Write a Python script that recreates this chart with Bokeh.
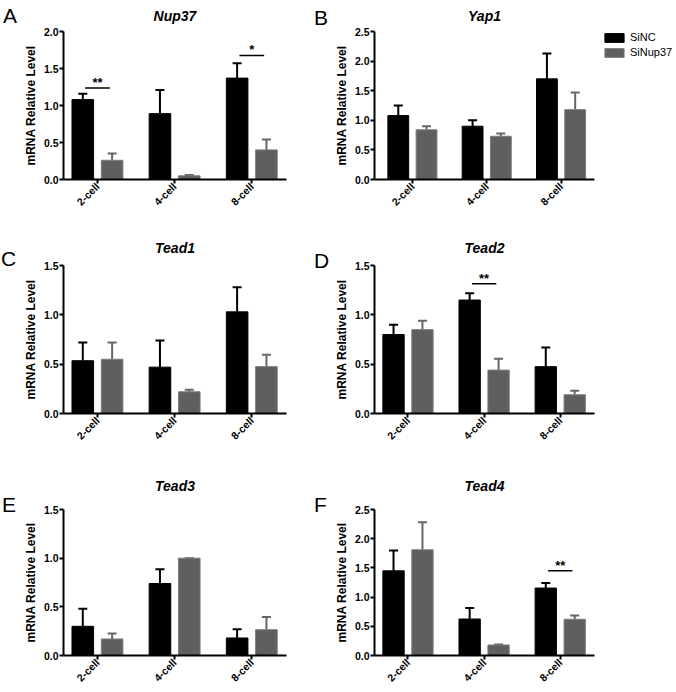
import math
from bokeh.plotting import figure
from bokeh.models import (Range1d, FixedTicker, SingleIntervalTicker, NumeralTickFormatter,
                          Whisker, TeeHead, ColumnDataSource, Legend, LegendItem, Div)
from bokeh.layouts import row, column
from bokeh.embed import file_html
from bokeh.resources import INLINE

# ---------------- data ----------------
stages = ["2-cell", "4-cell", "8-cell"]
series_names = ["SiNC", "SiNup37"]
genes = ["Nup37", "Yap1", "Tead1", "Tead2", "Tead3", "Tead4"]
panel_letters = ["A", "B", "C", "D", "E", "F"]
y_max = [2.0, 2.5, 1.5, 1.5, 1.5, 2.5]

nup37_sinc = [1.08, 0.89, 1.37]
nup37_sinc_sd = [0.08, 0.32, 0.20]
nup37_sinup = [0.26, 0.05, 0.40]
nup37_sinup_sd = [0.09, 0.01, 0.14]

yap1_sinc = [1.08, 0.90, 1.70]
yap1_sinc_sd = [0.17, 0.10, 0.43]
yap1_sinup = [0.84, 0.73, 1.18]
yap1_sinup_sd = [0.06, 0.045, 0.29]

tead1_sinc = [0.535, 0.47, 1.03]
tead1_sinc_sd = [0.185, 0.27, 0.25]
tead1_sinup = [0.55, 0.22, 0.475]
tead1_sinup_sd = [0.17, 0.02, 0.12]

tead2_sinc = [0.80, 1.15, 0.475]
tead2_sinc_sd = [0.10, 0.07, 0.195]
tead2_sinup = [0.85, 0.44, 0.19]
tead2_sinup_sd = [0.09, 0.115, 0.04]

tead3_sinc = [0.30, 0.74, 0.18]
tead3_sinc_sd = [0.18, 0.145, 0.09]
tead3_sinup = [0.17, 1.0, 0.265]
tead3_sinup_sd = [0.055, 0.0, 0.13]

tead4_sinc = [1.45, 0.625, 1.155]
tead4_sinc_sd = [0.35, 0.19, 0.085]
tead4_sinup = [1.81, 0.18, 0.62]
tead4_sinup_sd = [0.47, 0.01, 0.065]

# significance marks: (stage index, bar height, label)
sig_nup37 = [(0, 1.236, "**"), (2, 1.676, "*")]
sig_tead2 = [(1, 1.315, "**")]
sig_tead4 = [(2, 1.45, "**")]

panel_data = [
    (nup37_sinc, nup37_sinc_sd, nup37_sinup, nup37_sinup_sd, sig_nup37),
    (yap1_sinc, yap1_sinc_sd, yap1_sinup, yap1_sinup_sd, []),
    (tead1_sinc, tead1_sinc_sd, tead1_sinup, tead1_sinup_sd, []),
    (tead2_sinc, tead2_sinc_sd, tead2_sinup, tead2_sinup_sd, sig_tead2),
    (tead3_sinc, tead3_sinc_sd, tead3_sinup, tead3_sinup_sd, []),
    (tead4_sinc, tead4_sinc_sd, tead4_sinup, tead4_sinup_sd, sig_tead4),
]

# ---------------- layout / style ----------------
FONT = "Liberation Sans"
BLACK = "#000000"
GRAY_FILL = "#5f5f5f"
GRAY_LINE = "#7c7c7c"
ROW_H = [230, 230, 232]
ROW_TOP = [31, 35, 49]
ROW_FH = [148, 148, 146]
TITLE_STANDOFF = [11, 15, 28]
LETTER_W = [20, 19]
LEGEND_W = 74
# per panel: (left border, frame width, right border, x start)
geom = [
    (43, 223, 26, -0.44), (35, 228, 8, -0.51),
    (43, 223, 26, -0.44), (40, 223, 82, -0.44),
    (43, 223, 26, -0.44), (40, 223, 82, -0.44),
]
# letter offsets inside their div: (left, top)
letter_off = [(3, 5), (2, 7), (1, 18), (2, 20), (2, 34), (2, 34)]

BAR_W = 0.28
OFF = 0.19


def make_panel(i):
    gene = genes[i]
    r, c = divmod(i, 2)
    l, fw, rb, x0 = geom[i]
    h = ROW_H[r]
    t = ROW_TOP[r]
    fh = ROW_FH[r]
    W = l + fw + rb
    p = figure(width=W, height=h, x_range=Range1d(x0, 2.45), y_range=Range1d(0, y_max[i]),
               output_backend="svg", toolbar_location=None, title=gene,
               min_border_left=l, min_border_right=rb,
               min_border_top=t, min_border_bottom=h - t - fh)
    p.outline_line_color = None
    p.xgrid.visible = False
    p.ygrid.visible = False
    p.title.align = "center"
    p.title.vertical_align = "top"
    p.title.text_font = FONT
    p.title.text_font_style = "bold italic"
    p.title.text_font_size = "14px"
    p.title.text_color = "black"
    p.title.standoff = TITLE_STANDOFF[r]

    sinc, sinc_sd, sinup, sinup_sd, sig = panel_data[i]
    xs = list(range(len(stages)))
    src1 = ColumnDataSource(dict(x=[k - OFF for k in xs], top=sinc,
                                 upper=[a + b for a, b in zip(sinc, sinc_sd)]))
    src2 = ColumnDataSource(dict(x=[k + OFF for k in xs], top=sinup,
                                 upper=[a + b for a, b in zip(sinup, sinup_sd)]))
    p.vbar(x="x", top="top", width=BAR_W, source=src1, fill_color=BLACK, line_color=BLACK)
    p.vbar(x="x", top="top", width=BAR_W, source=src2, fill_color=GRAY_FILL, line_color=GRAY_LINE)
    for src, col in ((src1, BLACK), (src2, "#666666")):
        w = Whisker(source=src, base="x", lower="top", upper="upper", line_color=col, line_width=2,
                    lower_head=None, upper_head=TeeHead(size=9, line_color=col, line_width=2))
        p.add_layout(w)

    if sig:
        sx0 = [s[0] - 0.16 for s in sig]
        sx1 = [s[0] + 0.16 for s in sig]
        sy = [s[1] for s in sig]
        p.segment(x0=sx0, x1=sx1, y0=sy, y1=sy, line_color="black", line_width=1.5)
        p.text(x=[s[0] for s in sig], y=sy, text=[s[2] for s in sig], text_align="center",
               text_baseline="bottom", text_font_size="13px", text_font_style="bold",
               y_offset=2, text_color="black")

    for ax in (p.xaxis[0], p.yaxis[0]):
        ax.axis_line_width = 2
        ax.axis_line_color = "black"
        ax.major_tick_line_width = 2
        ax.major_tick_line_color = "black"
        ax.major_tick_out = 4
        ax.major_tick_in = 0
        ax.minor_tick_out = 0
        ax.minor_tick_in = 0
        ax.major_label_text_font = FONT
        ax.major_label_text_font_style = "bold"
        ax.major_label_text_font_size = "10.5px"
        ax.major_label_text_color = "black"
    p.yaxis.ticker = SingleIntervalTicker(interval=0.5, num_minor_ticks=0)
    p.yaxis.formatter = NumeralTickFormatter(format="0.0")
    p.yaxis.major_label_standoff = 1
    p.yaxis.axis_label = "mRNA Relative Level"
    p.yaxis.axis_label_text_font = FONT
    p.yaxis.axis_label_text_font_style = "bold"
    p.yaxis.axis_label_text_font_size = "12px"
    p.yaxis.axis_label_text_color = "black"
    p.yaxis.axis_label_standoff = 3
    p.xaxis.ticker = FixedTicker(ticks=xs)
    p.xaxis.major_label_overrides = {k: stages[k] for k in xs}
    p.xaxis.major_label_orientation = math.pi / 4
    p.xaxis.major_label_standoff = 1
    return p


def make_legend_panel():
    # a small companion plot that only carries the shared legend
    h = ROW_H[0]
    lf = figure(width=LEGEND_W, height=h, x_range=Range1d(0, 1), y_range=Range1d(0, 1),
                output_backend="svg", toolbar_location=None, x_axis_type=None, y_axis_type=None,
                min_border_left=0, min_border_right=0, min_border_bottom=0, min_border_top=0)
    lf.outline_line_color = None
    lf.grid.visible = False
    # swatch renderers: hidden in the plot, only used for the legend glyphs
    g1 = lf.vbar(x=[-OFF], top=[nup37_sinc[0]], width=BAR_W, fill_color=BLACK, line_color=BLACK)
    g2 = lf.vbar(x=[OFF], top=[nup37_sinup[0]], width=BAR_W, fill_color=GRAY_FILL, line_color=GRAY_LINE)
    g1.visible = False
    g2.visible = False
    legend = Legend(items=[LegendItem(label=series_names[0], renderers=[g1]),
                           LegendItem(label=series_names[1], renderers=[g2])],
                    location="top_left", orientation="vertical", click_policy="none",
                    glyph_width=24, glyph_height=11, label_height=11, spacing=3,
                    padding=0, margin=0, label_standoff=4,
                    label_text_font=FONT, label_text_font_size="11px",
                    label_text_color="black", inactive_fill_alpha=0,
                    border_line_color=None, background_fill_alpha=0)
    lf.add_layout(legend)
    return lf


def make_letter(i):
    r, c = divmod(i, 2)
    dx, dy = letter_off[i]
    html = ('<div style="position:relative; left:%dpx; top:%dpx; font-family:\'Liberation Sans\';'
            ' font-size:21px; line-height:21px; color:black;">%s</div>' % (dx, dy, panel_letters[i]))
    return Div(text=html, width=LETTER_W[c], height=ROW_H[r], margin=0)


rows = []
for r in range(3):
    items = []
    for c in range(2):
        i = r * 2 + c
        items.append(make_letter(i))
        items.append(make_panel(i))
    if r == 0:
        items.append(make_legend_panel())
    rows.append(row(*items))

layout = column(*rows)

open("out.html", "w").write(file_html(layout, INLINE))
